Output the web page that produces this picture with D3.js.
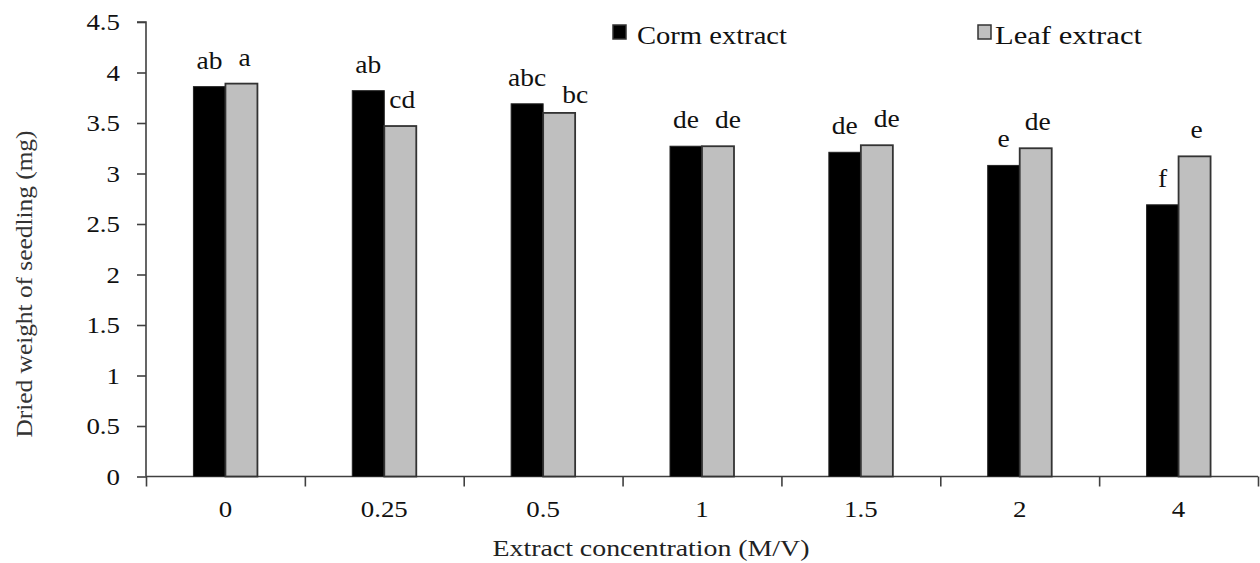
<!DOCTYPE html>
<html><head><meta charset="utf-8">
<script src="https://cdn.jsdelivr.net/npm/d3@7"></script>
<style>body{margin:0;background:#fff;} svg{display:block;} text{font-family:"Liberation Serif","Times New Roman",serif;}</style>
</head><body>
<svg id="c" width="1260" height="563"></svg>
<script>
const categories = ["0","0.25","0.5","1","1.5","2","4"];
const corm = [3.86,3.82,3.69,3.27,3.21,3.08,2.69];
const leaf = [3.89,3.47,3.60,3.27,3.28,3.25,3.17];
const cormLetters = ["ab","ab","abc","de","de","e","f"];
const leafLetters = ["a","cd","bc","de","de","de","e"];
const yTicks = [0,0.5,1,1.5,2,2.5,3,3.5,4,4.5];
const seriesNames = ["Corm extract","Leaf extract"];

const svg = d3.select("#c");
const x0 = 146, x1 = 1258, yTop = 22, yBot = 476.5;
const x = d3.scaleBand().domain(categories).range([x0,x1]);
const y = d3.scaleLinear().domain([0,4.5]).range([yBot,yTop]);
const bw = 32;
const axisCol = "#404040";
function stretch(sel, k){ sel.each(function(){ const w=this.getComputedTextLength(); d3.select(this).attr("textLength",w*k).attr("lengthAdjust","spacingAndGlyphs"); }); }

// y axis
const ya = svg.append("g").attr("transform",`translate(${x0},0)`)
  .call(d3.axisLeft(y).tickValues(yTicks).tickSize(9).tickPadding(17).tickFormat(d=>d3.format("")(d)));
ya.select(".domain").attr("stroke",axisCol).attr("stroke-width",1.6).attr("d",`M-9,${y(4.5)}H0V${yBot}`);
ya.selectAll(".tick line").attr("stroke",axisCol).attr("stroke-width",1.6);
ya.selectAll(".tick text").attr("font-size",24).attr("fill","#111").attr("font-family","Liberation Serif");
stretch(ya.selectAll(".tick text"),1.12);

// x axis
const xb = d3.scaleLinear().domain([0,categories.length]).range([x0,x1]);
const xa = svg.append("g").attr("transform",`translate(0,${yBot})`)
  .call(d3.axisBottom(xb).tickValues(d3.range(0,categories.length+1)).tickSize(10).tickFormat(""));
xa.select(".domain").attr("stroke",axisCol).attr("stroke-width",1.6).attr("d",`M${x0},0H${x1}`);
xa.selectAll(".tick line").attr("stroke",axisCol).attr("stroke-width",1.6);
const xl = svg.append("g").attr("transform",`translate(0,${yBot})`)
  .call(d3.axisBottom(x).tickSize(0).tickPadding(23));
xl.select(".domain").remove();
xl.selectAll(".tick text").attr("font-size",24).attr("fill","#111").attr("font-family","Liberation Serif");
stretch(xl.selectAll(".tick text"),1.12);

// bars
const g = svg.append("g");
categories.forEach((c,i)=>{
  const cx = x(c)+x.bandwidth()/2;
  g.append("rect").attr("x",cx-bw).attr("y",y(corm[i])).attr("width",bw).attr("height",yBot-y(corm[i]))
    .attr("fill","#000").attr("stroke","#222").attr("stroke-width",1);
  g.append("rect").attr("x",cx).attr("y",y(leaf[i])).attr("width",bw).attr("height",yBot-y(leaf[i]))
    .attr("fill","#bfbfbf").attr("stroke","#333").attr("stroke-width",1.8);
  const tc = g.append("text").attr("x",cx-bw/2).attr("y",y(corm[i])-18).attr("text-anchor","middle")
    .attr("font-size",25).attr("fill","#111").text(cormLetters[i]);
  const isBc = leafLetters[i]==="bc";
  const tl = g.append("text").attr("x",cx+bw/2).attr("y",y(leaf[i])-(isBc?10:18)).attr("text-anchor","middle")
    .attr("font-size",25).attr("fill","#111").text(leafLetters[i]);
  stretch(tc,1.1); stretch(tl,1.1);
  const wc = +tc.attr("textLength"), wl = +tl.attr("textLength");
  const overlapV = Math.abs(y(corm[i]) - y(leaf[i])) < 14;
  let gap = bw - wc/2 - wl/2;
  let shift = isBc ? 8 : 2;
  if (overlapV && gap + shift < 16) shift = 16 - gap;
  tl.attr("x", cx+bw/2+shift);
});

// axis titles
svg.append("text").attr("x",651).attr("y",556).attr("text-anchor","middle")
  .attr("font-size",24).attr("fill","#222").attr("textLength",317).attr("lengthAdjust","spacingAndGlyphs")
  .text("Extract concentration  (M/V)");
svg.append("text").attr("transform","translate(32,284) rotate(-90)").attr("text-anchor","middle")
  .attr("font-size",24).attr("fill","#333").attr("textLength",307).attr("lengthAdjust","spacingAndGlyphs")
  .text("Dried weight of seedling (mg)");

// legend
const leg = [{n:seriesNames[0],f:"#000",sx:613,tx:637,tl:150},{n:seriesNames[1],f:"#bfbfbf",sx:978,tx:995,tl:147}];
leg.forEach(l=>{
  svg.append("rect").attr("x",l.sx).attr("y",25).attr("width",13).attr("height",14)
    .attr("fill",l.f).attr("stroke","#333").attr("stroke-width",1.5);
  svg.append("text").attr("x",l.tx).attr("y",44).attr("font-size",25).attr("fill","#111")
    .attr("textLength",l.tl).attr("lengthAdjust","spacingAndGlyphs").text(l.n);
});
</script>
</body></html>
